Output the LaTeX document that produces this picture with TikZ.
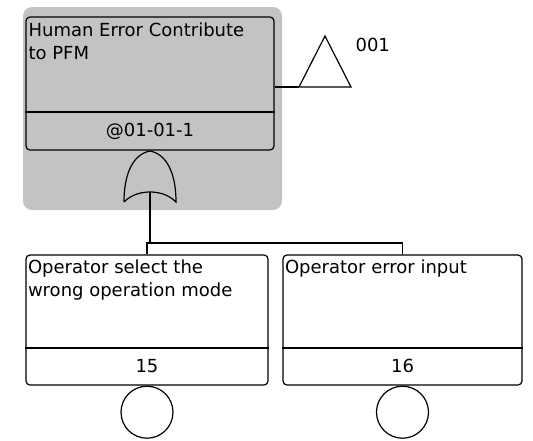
\documentclass[tikz,border=0pt]{standalone}
\usepackage{fontspec}
\setsansfont{DejaVu Sans}
\usepackage{tikz}
\usetikzlibrary{positioning}
\definecolor{ftagray}{RGB}{195,195,195}

\begin{document}
\begin{tikzpicture}[x=1pt, y=-1pt, line width=1.2pt,
  evbox/.style={draw, rounded corners=4pt, inner sep=0pt},
  evtext/.style={font=\sffamily\fontsize{18}{23}\selectfont, align=left, anchor=north west, inner sep=1pt},
  evcode/.style={font=\sffamily\fontsize{18}{23}\selectfont, inner sep=1pt}]
 \useasboundingbox (0,0) rectangle (533,440);
 \coordinate (topdiv) at (0,112);
 \coordinate (divb) at (0,348);
 \coordinate (codeb) at (0,366);
 \coordinate (bus) at (0,243);
 % top event with its gate area
 \fill[ftagray, rounded corners=9pt] (23,7) rectangle (282,210);
 \node[evbox, minimum width=248pt, minimum height=133pt] (top) at (150,83.5){};
 \draw (top.west |- topdiv) -- (top.east |- topdiv);
 \node[evtext] (toptext) at (27,21){Human Error Contribute\\to PFM};
 \node[evcode] (topcode) at (top.south |- 0,131){@01-01-1};
 % transfer triangle
 \coordinate (trl) at (299,87);
 \draw (top.east |- trl) -- (trl);
 \draw (trl) -- (325,36) -- (351,87) -- cycle;
 \node[evcode, anchor=base west] (xfer) at (354,51){001};
 % or gate
 \draw (124,202) .. controls (124,172) and (134,154) .. (150,151) .. controls (166,154) and (176,172) .. (176,202) .. controls (168,194) and (158,192) .. (150,192) .. controls (142,192) and (132,194) .. (124,202);
 \coordinate (gout) at (150,192);
 % basic events
 \foreach \n/\cx/\w/\txt/\code in {l/147/242/{Operator select the\\wrong operation mode}/15, r/402.5/239/{Operator error input}/16}{
   \node[evbox, minimum width=\w pt, minimum height=130pt] (ev\n) at (\cx,320){};
   \draw (ev\n.west |- divb) -- (ev\n.east |- divb);
   \node[evtext] (txt\n) at ([shift={(1pt,-4pt)}]ev\n.north west){\txt};
   \node[evcode] (code\n) at (ev\n.south |- codeb){\code};
   \node[draw, circle, minimum size=52pt, inner sep=0pt, anchor=north] (base\n) at (ev\n.south){};
 }
 \draw (gout) -- (gout |- bus);
 \draw (evl.north) |- (bus -| evr.north) -- (evr.north);
\end{tikzpicture}
\end{document}
